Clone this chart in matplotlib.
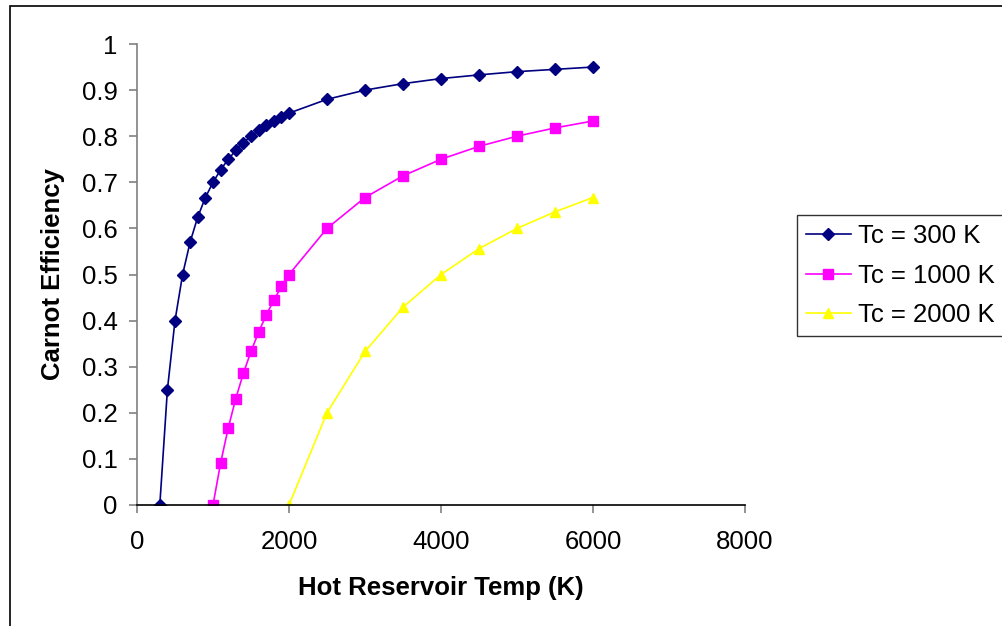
import matplotlib
matplotlib.use("Agg")
import matplotlib.pyplot as plt
from matplotlib.patches import Rectangle

plt.rcParams['font.family'] = ['Liberation Sans', 'DejaVu Sans']

t300 = [300, 400, 500, 600, 700, 800, 900, 1000, 1100, 1200, 1300, 1400, 1500,
        1600, 1700, 1800, 1900, 2000, 2500, 3000, 3500, 4000, 4500, 5000, 5500, 6000]
e300 = [0.0, 0.25, 0.4, 0.5, 0.571, 0.625, 0.667, 0.7, 0.727, 0.75, 0.769, 0.786, 0.8,
        0.8125, 0.824, 0.833, 0.842, 0.85, 0.88, 0.9, 0.914, 0.925, 0.933, 0.94, 0.945, 0.95]
t1000 = [1000, 1100, 1200, 1300, 1400, 1500, 1600, 1700, 1800, 1900, 2000,
         2500, 3000, 3500, 4000, 4500, 5000, 5500, 6000]
e1000 = [0.0, 0.091, 0.167, 0.231, 0.286, 0.333, 0.375, 0.412, 0.444, 0.474, 0.5,
         0.6, 0.667, 0.714, 0.75, 0.778, 0.8, 0.818, 0.833]
t2000 = [2000, 2500, 3000, 3500, 4000, 4500, 5000, 5500, 6000]
e2000 = [0.0, 0.2, 0.333, 0.429, 0.5, 0.556, 0.6, 0.636, 0.667]

labels = ['Tc = 300 K', 'Tc = 1000 K', 'Tc = 2000 K']

FS = 18.5

fig = plt.figure(figsize=(10.02, 6.26), dpi=100)
ax = fig.add_axes([137/1002, (626-505)/626, (745-137)/1002, (505-44)/626])

ax.plot(t300, e300, color='#000080', marker='D', markersize=6, lw=1.2, label=labels[0])
ax.plot(t1000, e1000, color='#FF00FF', marker='s', markersize=6.5, lw=1.2, label=labels[1])
ax.plot(t2000, e2000, color='#FFFF00', marker='^', markersize=7.5, lw=1.2, label=labels[2])

ax.set_xlim(0, 8000)
ax.set_ylim(0, 1)
ax.set_xticks([0, 2000, 4000, 6000, 8000])
ax.set_yticks([0, 0.1, 0.2, 0.3, 0.4, 0.5, 0.6, 0.7, 0.8, 0.9, 1])
ax.set_yticklabels(['0', '0.1', '0.2', '0.3', '0.4', '0.5', '0.6', '0.7', '0.8', '0.9', '1'])
for s in ['top', 'right']:
    ax.spines[s].set_visible(False)
ax.spines['left'].set_color('#808080')
ax.spines['left'].set_linewidth(1.2)
ax.spines['bottom'].set_color('black')
ax.spines['bottom'].set_linewidth(1.2)
ax.tick_params(axis='both', direction='out', length=6, width=1.2, color='#808080',
               labelsize=FS)
ax.tick_params(axis='y', pad=8)
ax.tick_params(axis='x', pad=12)
ax.set_xlabel('Hot Reservoir Temp (K)', fontsize=FS, fontweight='bold', labelpad=16)
ax.set_ylabel('Carnot Efficiency', fontsize=FS, fontweight='bold', labelpad=12)

leg = ax.legend(loc='upper left', bbox_to_anchor=(797/1002, (626-215)/626),
                bbox_transform=fig.transFigure, fontsize=FS, frameon=True,
                fancybox=False, edgecolor='black', handlelength=1.75,
                handletextpad=0.28, borderpad=0.35, labelspacing=0.61, borderaxespad=0)
leg.get_frame().set_linewidth(1.0)

fig.patches.append(Rectangle((10/1002, -0.1), 1.2, (626-6)/626 + 0.1,
                             transform=fig.transFigure, fill=False,
                             edgecolor='black', lw=1.2))

fig.savefig('out.png', dpi=100)
